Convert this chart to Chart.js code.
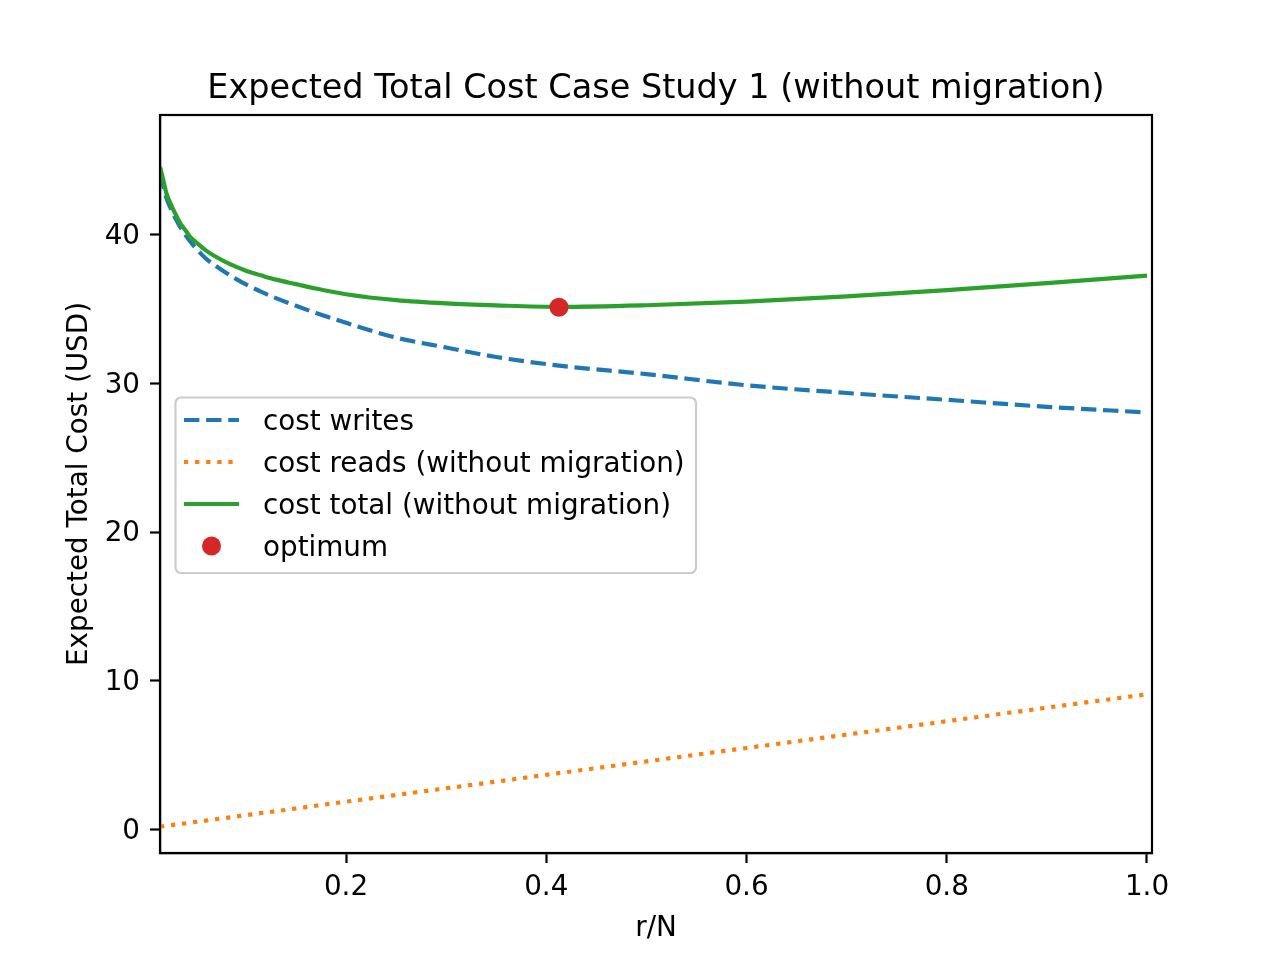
<!DOCTYPE html>
<html>
<head>
<meta charset="utf-8">
<script src="https://cdn.jsdelivr.net/npm/chart.js@4/dist/chart.umd.min.js"></script>
<style>
  html, body { margin: 0; padding: 0; background: #fff; }
</style>
</head>
<body>
<canvas id="c" width="1280" height="960"></canvas>
<script>
// values
const ratio      = [0.0143, 0.0175, 0.0205, 0.025, 0.03, 0.035, 0.04, 0.045, 0.05, 0.06, 0.07, 0.08, 0.09, 0.10, 0.115, 0.13, 0.15, 0.17, 0.2, 0.25, 0.3, 0.35, 0.4127, 0.5, 0.6, 0.7, 0.8, 0.9, 1.0];
const costWrites = [44.1, 43.25, 42.5, 41.75, 41.05, 40.45, 39.95, 39.5, 39.1, 38.4, 37.9, 37.45, 37.03, 36.66, 36.17, 35.74, 35.22, 34.74, 34.08, 33.08, 32.42, 31.78, 31.2, 30.63, 29.88, 29.36, 28.9, 28.43, 28.05];
const costReads  = [0.2, 0.23, 0.26, 0.3, 0.34, 0.39, 0.43, 0.48, 0.52, 0.61, 0.7, 0.79, 0.88, 0.97, 1.11, 1.24, 1.42, 1.61, 1.88, 2.33, 2.78, 3.23, 3.8, 4.59, 5.49, 6.39, 7.29, 8.2, 9.1];
const costTotal  = [44.55, 43.68, 42.82, 42.06, 41.34, 40.72, 40.27, 39.8, 39.51, 38.95, 38.52, 38.16, 37.85, 37.58, 37.27, 36.98, 36.68, 36.38, 36.0, 35.6, 35.38, 35.25, 35.15, 35.26, 35.5, 35.85, 36.28, 36.75, 37.25];
const optimumX = [0.4127];
const optimumY = [35.13];
const xTicks = [0.2, 0.4, 0.6, 0.8, 1.0];
const yTicks = [0, 10, 20, 30, 40];
const seriesLabels = ['cost writes', 'cost reads (without migration)', 'cost total (without migration)', 'optimum'];
const titleText = 'Expected Total Cost Case Study 1 (without migration)';

const FONT = 'DejaVu Sans';
const colors = ['#1f77b4', '#ff7f0e', '#2ca02c', '#d62728'];
const dashes = [[15.4, 6.7], [4.2, 6.9], [], null];

const pts = (xs, ys) => xs.map((x, i) => ({ x: x, y: ys[i] }));

// title, axes frame and the matplotlib-style legend
const extras = {
  id: 'extras',
  afterDatasetsDraw(chart) {
    const ctx = chart.ctx, a = chart.chartArea;
    ctx.save();
    ctx.strokeStyle = '#000';
    ctx.lineWidth = 2.2;
    ctx.strokeRect(a.left, a.top, a.right - a.left, a.bottom - a.top);
    ctx.restore();
  },
  afterDraw(chart) {
    const ctx = chart.ctx, a = chart.chartArea;
    ctx.save();
    ctx.fillStyle = '#000';
    ctx.font = '33.5px "' + FONT + '"';
    ctx.textAlign = 'center';
    ctx.textBaseline = 'alphabetic';
    ctx.fillText(titleText, (a.left + a.right) / 2, 98);

    // legend box
    ctx.beginPath();
    ctx.roundRect(175.5, 397.5, 520.5, 175.5, 5.5);
    ctx.fillStyle = 'rgba(255,255,255,0.8)';
    ctx.fill();
    ctx.strokeStyle = '#cccccc';
    ctx.lineWidth = 2.2;
    ctx.stroke();

    ctx.font = '27.8px "' + FONT + '"';
    ctx.textAlign = 'left';
    seriesLabels.forEach((lab, i) => {
      const y = 420 + 42 * i;
      if (dashes[i]) {
        ctx.beginPath();
        ctx.setLineDash(dashes[i]);
        ctx.lineCap = 'butt';
        ctx.strokeStyle = colors[i];
        ctx.lineWidth = 4.17;
        ctx.moveTo(184, y);
        ctx.lineTo(239, y);
        ctx.stroke();
        ctx.setLineDash([]);
      } else {
        ctx.beginPath();
        ctx.arc(211.5, y, 9.5, 0, Math.PI * 2);
        ctx.fillStyle = colors[i];
        ctx.fill();
      }
      ctx.fillStyle = '#000';
      ctx.fillText(lab, 263, y + 9.5);
    });
    ctx.restore();
  }
};

const tickFont = { family: FONT, size: 27.8 };

new Chart(document.getElementById('c'), {
  type: 'line',
  data: {
    datasets: [
      { label: seriesLabels[0], data: pts(ratio, costWrites), borderColor: colors[0], borderDash: dashes[0], order: 3 },
      { label: seriesLabels[1], data: pts(ratio, costReads), borderColor: colors[1], borderDash: dashes[1], order: 2 },
      { label: seriesLabels[2], data: pts(ratio, costTotal), borderColor: colors[2], order: 1 },
      { label: seriesLabels[3], type: 'scatter', data: pts(optimumX, optimumY), backgroundColor: colors[3],
        borderWidth: 0, pointRadius: 9.5, showLine: false, order: 0 }
    ]
  },
  options: {
    responsive: false,
    animation: false,
    devicePixelRatio: 1,
    layout: { padding: { top: 115, right: 128, left: 0, bottom: 0 } },
    elements: {
      line: { borderWidth: 4.17, cubicInterpolationMode: 'monotone', fill: false, borderCapStyle: 'butt' },
      point: { radius: 0 }
    },
    datasets: { line: { clip: 0, pointRadius: 0 } },
    plugins: { legend: { display: false }, tooltip: { enabled: false }, title: { display: false } },
    scales: {
      x: {
        type: 'linear',
        min: 0.01423,
        max: 1.005,
        afterFit(s) { s.height = 107; },
        afterBuildTicks(s) { s.ticks = xTicks.map(v => ({ value: v })); },
        grid: { drawOnChartArea: false, drawTicks: true, tickLength: 10, tickWidth: 2.2, tickColor: '#000' },
        border: { display: true, color: '#000', width: 2.2 },
        ticks: { color: '#000', font: tickFont, padding: 8, maxRotation: 0, autoSkip: false,
                 callback: v => v.toFixed(1) },
        title: { display: true, text: 'r/N', color: '#000', font: tickFont, padding: { top: 0, bottom: 15 } }
      },
      y: {
        type: 'linear',
        min: -1.57,
        max: 48.05,
        afterFit(s) { s.width = 160; },
        afterBuildTicks(s) { s.ticks = yTicks.map(v => ({ value: v })); },
        grid: { drawOnChartArea: false, drawTicks: true, tickLength: 10, tickWidth: 2.2, tickColor: '#000' },
        border: { display: true, color: '#000', width: 2.2 },
        ticks: { color: '#000', font: tickFont, padding: 10, labelOffset: 2, callback: v => String(v) },
        title: { display: true, text: 'Expected Total Cost (USD)', color: '#000', font: tickFont, padding: { top: 63, bottom: 0 } }
      }
    }
  },
  plugins: [extras]
});
</script>
</body>
</html>
